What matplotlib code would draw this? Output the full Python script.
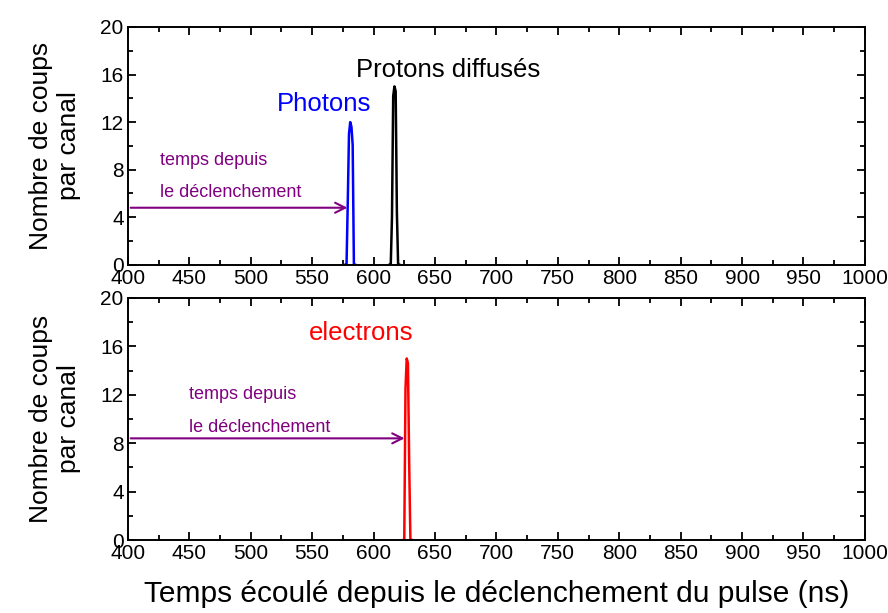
import matplotlib
matplotlib.use("Agg")
import matplotlib.pyplot as plt
from matplotlib.ticker import MultipleLocator

plt.rcParams["font.family"] = ["Liberation Sans", "DejaVu Sans"]

# temps (ns) et nombre de coups par canal
photons_t = [577, 578, 579, 580, 581, 582, 583, 584, 585]
photons_n = [0, 0, 5.2, 11.0, 12.0, 11.6, 10.1, 0, 0]

protons_t = [613, 614, 615, 616, 617, 618, 619, 620, 621]
protons_n = [0, 0, 4.0, 14.2, 15.0, 14.6, 4.4, 0, 0]

electrons_t = [624, 625, 626, 627, 628, 629, 630, 631]
electrons_n = [0, 0, 12.5, 15.0, 14.6, 6.4, 0, 0]

xmin, xmax = 400, 1000
ymin, ymax = 0, 20
purple = "#800080"

fig = plt.figure(figsize=(8.88, 6.13), dpi=100)
ax1 = fig.add_axes([0.144, 0.568, 0.830, 0.388])
ax2 = fig.add_axes([0.144, 0.119, 0.830, 0.395])

for ax in (ax1, ax2):
    ax.set_xlim(xmin, xmax)
    ax.set_ylim(ymin, ymax)
    ax.xaxis.set_major_locator(MultipleLocator(50))
    ax.xaxis.set_minor_locator(MultipleLocator(25))
    ax.yaxis.set_major_locator(MultipleLocator(4))
    ax.yaxis.set_minor_locator(MultipleLocator(2))
    ax.tick_params(which="both", direction="in", top=True, right=True, width=1.3)
    ax.tick_params(which="major", length=6, labelsize=15, pad=3)
    ax.tick_params(which="minor", length=3.5)
    for s in ax.spines.values():
        s.set_linewidth(1.4)
    ax.set_ylabel("Nombre de coups\npar canal", fontsize=19, labelpad=14)

# panneau du haut
ax1.plot(photons_t, photons_n, color="blue", lw=1.8)
ax1.plot(protons_t, protons_n, color="black", lw=1.8)
ax1.text(560, 13.5, "Photons", color="blue", fontsize=18.5, ha="center", va="center")
ax1.text(661, 16.4, "Protons diffusés", color="black", fontsize=18.5, ha="center", va="center")
ax1.text(426, 8.8, "temps depuis", color=purple, fontsize=13, va="center")
ax1.text(426, 6.1, "le déclenchement", color=purple, fontsize=13, va="center")
ax1.annotate("", xy=(581, 4.8), xytext=(400, 4.8),
             arrowprops=dict(arrowstyle="->", color=purple, lw=1.5, mutation_scale=18))

# panneau du bas
ax2.plot(electrons_t, electrons_n, color="red", lw=1.8)
ax2.text(590, 17.1, "electrons", color="red", fontsize=18.5, ha="center", va="center")
ax2.text(450, 12.0, "temps depuis", color=purple, fontsize=13, va="center")
ax2.text(450, 9.3, "le déclenchement", color=purple, fontsize=13, va="center")
ax2.annotate("", xy=(627.5, 8.4), xytext=(400, 8.4),
             arrowprops=dict(arrowstyle="->", color=purple, lw=1.5, mutation_scale=18))
ax2.set_xlabel("Temps écoulé depuis le déclenchement du pulse (ns)", fontsize=21.5, labelpad=12)

fig.savefig("out.png", dpi=100)
